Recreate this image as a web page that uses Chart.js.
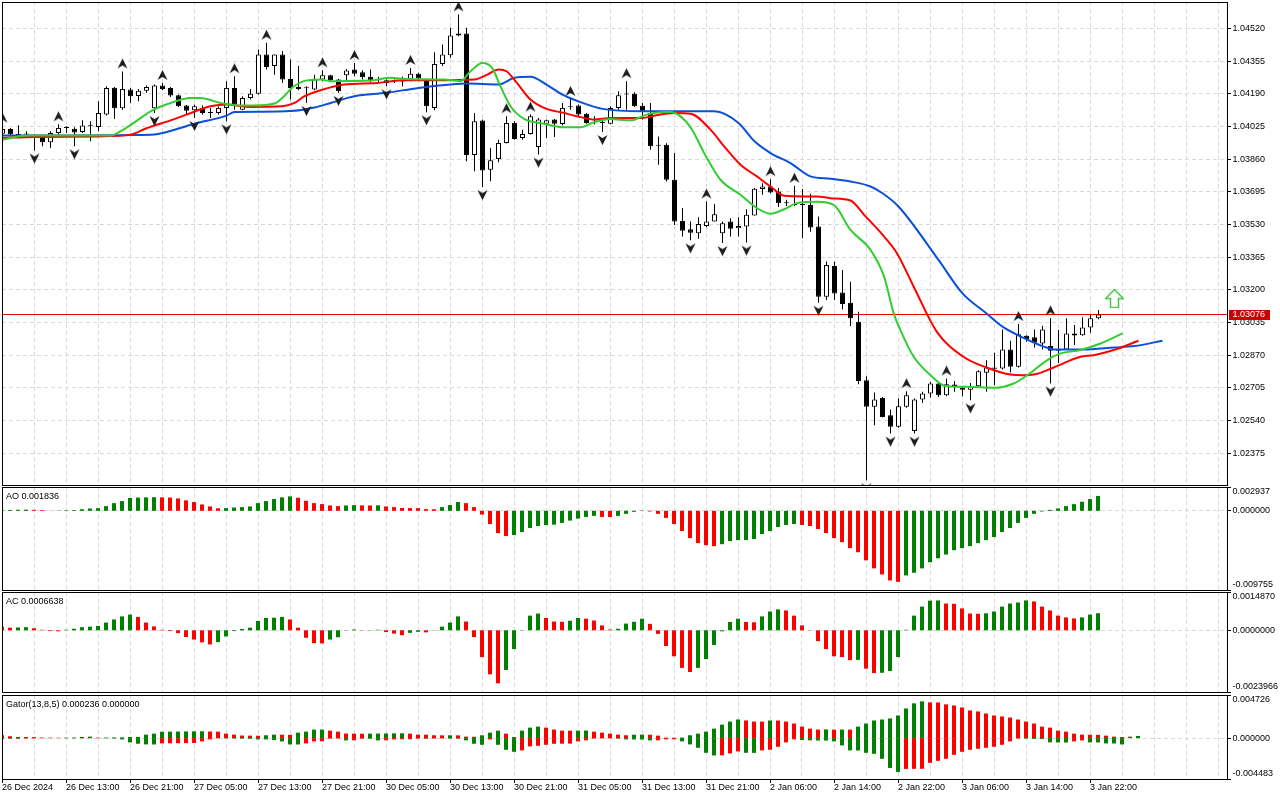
<!DOCTYPE html>
<html>
<head>
<meta charset="utf-8">
<title>EURUSD H1</title>
<script src="https://cdn.jsdelivr.net/npm/chart.js@4.4.1/dist/chart.umd.min.js"></script>
<style>
    html, body { margin: 0; padding: 0; background: #ffffff; }
    body { width: 1280px; height: 800px; position: relative; overflow: hidden; }
    canvas { position: absolute; left: 0; }
</style>
</head>
<body>
<canvas id="mainChart" width="1280" height="487" style="top:0px"></canvas>
<canvas id="aoChart" width="1280" height="106" style="top:486px"></canvas>
<canvas id="acChart" width="1280" height="103" style="top:591px"></canvas>
<canvas id="gatorChart" width="1280" height="106" style="top:694px"></canvas>
<script>
// candles, one per hour, bar 0 = 26 Dec 05:00
var opens = [
    1.03989, 1.04012, 1.03984, 1.03984, 1.03978, 1.03972, 1.03945, 1.03992, 1.04018, 1.04014,
    1.03997, 1.04028, 1.04023, 1.04085, 1.04221, 1.04117, 1.04212, 1.04179, 1.04205, 1.04117,
    1.04232, 1.04220, 1.04183, 1.04131, 1.04107, 1.04119, 1.04093, 1.04093, 1.04119, 1.04220,
    1.04110, 1.04169, 1.04190, 1.04389, 1.04330, 1.04389, 1.04265, 1.04225, 1.04220, 1.04212,
    1.04262, 1.04284, 1.04262, 1.04284, 1.04313, 1.04299, 1.04276, 1.04262, 1.04259, 1.04254,
    1.04252, 1.04262, 1.04292, 1.04262, 1.04119, 1.04341, 1.04385, 1.04485, 1.04495, 1.03881,
    1.04055, 1.03807, 1.03861, 1.03942, 1.04043, 1.03967, 1.03987, 1.03921, 1.04039, 1.04060,
    1.04038, 1.04124, 1.04131, 1.04090, 1.04056, 1.04043, 1.04039, 1.04119, 1.04186, 1.04190,
    1.04130, 1.04093, 1.03930, 1.03933, 1.03756, 1.03548, 1.03506, 1.03486, 1.03523, 1.03545,
    1.03486, 1.03545, 1.03511, 1.03520, 1.03575, 1.03709, 1.03722, 1.03697, 1.03638, 1.03631,
    1.03629, 1.03629, 1.03520, 1.03165, 1.03321, 1.03186, 1.03135, 1.03039, 1.02744, 1.02609,
    1.02654, 1.02567, 1.02508, 1.02609, 1.02487, 1.02646, 1.02676, 1.02727, 1.02668, 1.02722,
    1.02707, 1.02696, 1.02713, 1.02781, 1.02808, 1.02803, 1.02899, 1.02811, 1.02968, 1.02960,
    1.02929, 1.02916, 1.02892, 1.02899, 1.02980, 1.02971, 1.03010, 1.03056
];
var highs = [
    1.04030, 1.04018, 1.04030, 1.04001, 1.03987, 1.03984, 1.04001, 1.04036, 1.04026, 1.04021,
    1.04056, 1.04051, 1.04152, 1.04228, 1.04225, 1.04303, 1.04220, 1.04215, 1.04232, 1.04237,
    1.04245, 1.04225, 1.04186, 1.04134, 1.04136, 1.04131, 1.04119, 1.04127, 1.04254, 1.04279,
    1.04178, 1.04215, 1.04414, 1.04448, 1.04389, 1.04406, 1.04363, 1.04330, 1.04228, 1.04287,
    1.04309, 1.04287, 1.04265, 1.04316, 1.04346, 1.04309, 1.04313, 1.04276, 1.04262, 1.04262,
    1.04276, 1.04321, 1.04296, 1.04265, 1.04400, 1.04439, 1.04524, 1.04591, 1.04524, 1.04093,
    1.04060, 1.03916, 1.03958, 1.04077, 1.04051, 1.04009, 1.04085, 1.04068, 1.04060, 1.04063,
    1.04144, 1.04164, 1.04136, 1.04093, 1.04077, 1.04060, 1.04127, 1.04203, 1.04254, 1.04198,
    1.04144, 1.04144, 1.03975, 1.03941, 1.03891, 1.03613, 1.03545, 1.03567, 1.03646, 1.03633,
    1.03545, 1.03562, 1.03567, 1.03607, 1.03714, 1.03739, 1.03759, 1.03714, 1.03655, 1.03726,
    1.03709, 1.03685, 1.03570, 1.03343, 1.03343, 1.03300, 1.03241, 1.03090, 1.02764, 1.02681,
    1.02659, 1.02595, 1.02651, 1.02688, 1.02651, 1.02685, 1.02735, 1.02735, 1.02752, 1.02740,
    1.02710, 1.02730, 1.02794, 1.02845, 1.02882, 1.03000, 1.02943, 1.03027, 1.02971, 1.03000,
    1.03019, 1.03056, 1.02997, 1.03056, 1.03022, 1.03061, 1.03073, 1.03098
];
var lows = [
    1.03984, 1.03975, 1.03972, 1.03975, 1.03904, 1.03925, 1.03916, 1.03984, 1.03992, 1.03925,
    1.03992, 1.03950, 1.04001, 1.04080, 1.04063, 1.04110, 1.04144, 1.04152, 1.04195, 1.04093,
    1.04208, 1.04174, 1.04124, 1.04085, 1.04068, 1.04085, 1.04068, 1.04085, 1.04051, 1.04110,
    1.04107, 1.04161, 1.04186, 1.04313, 1.04287, 1.04245, 1.04161, 1.04208, 1.04144, 1.04208,
    1.04254, 1.04250, 1.04195, 1.04254, 1.04279, 1.04262, 1.04249, 1.04249, 1.04228, 1.04245,
    1.04228, 1.04254, 1.04254, 1.04097, 1.04107, 1.04330, 1.04372, 1.04481, 1.03849, 1.03799,
    1.03719, 1.03748, 1.03844, 1.03939, 1.03958, 1.03958, 1.03984, 1.03883, 1.03967, 1.03972,
    1.04030, 1.04110, 1.04077, 1.04039, 1.04036, 1.03997, 1.04036, 1.04110, 1.04110, 1.04124,
    1.04060, 1.03908, 1.03832, 1.03747, 1.03528, 1.03469, 1.03450, 1.03458, 1.03516, 1.03545,
    1.03436, 1.03469, 1.03469, 1.03439, 1.03575, 1.03680, 1.03688, 1.03618, 1.03624, 1.03624,
    1.03461, 1.03494, 1.03135, 1.03149, 1.03149, 1.03101, 1.03017, 1.02723, 1.02238, 1.02516,
    1.02555, 1.02474, 1.02504, 1.02605, 1.02474, 1.02629, 1.02656, 1.02659, 1.02663, 1.02685,
    1.02663, 1.02642, 1.02710, 1.02685, 1.02718, 1.02798, 1.02782, 1.02808, 1.02938, 1.02909,
    1.02899, 1.02727, 1.02831, 1.02896, 1.02921, 1.02968, 1.02983, 1.03051
];
var closes = [
    1.04012, 1.03984, 1.03982, 1.03986, 1.03981, 1.03945, 1.03992, 1.04018, 1.04020, 1.03995,
    1.04030, 1.04026, 1.04093, 1.04220, 1.04117, 1.04215, 1.04178, 1.04206, 1.04225, 1.04232,
    1.04215, 1.04181, 1.04127, 1.04105, 1.04127, 1.04093, 1.04093, 1.04119, 1.04220, 1.04136,
    1.04169, 1.04190, 1.04389, 1.04325, 1.04389, 1.04262, 1.04220, 1.04215, 1.04218, 1.04262,
    1.04284, 1.04259, 1.04203, 1.04308, 1.04292, 1.04274, 1.04257, 1.04260, 1.04245, 1.04252,
    1.04254, 1.04292, 1.04267, 1.04127, 1.04341, 1.04389, 1.04485, 1.04495, 1.03881, 1.04051,
    1.03803, 1.03854, 1.03942, 1.04043, 1.03962, 1.03987, 1.04077, 1.04060, 1.04056, 1.04039,
    1.04119, 1.04122, 1.04085, 1.04043, 1.04055, 1.04045, 1.04119, 1.04183, 1.04188, 1.04127,
    1.04102, 1.03925, 1.03928, 1.03756, 1.03545, 1.03499, 1.03489, 1.03532, 1.03545, 1.03582,
    1.03537, 1.03508, 1.03523, 1.03579, 1.03710, 1.03722, 1.03692, 1.03638, 1.03640, 1.03629,
    1.03631, 1.03515, 1.03165, 1.03326, 1.03182, 1.03128, 1.03056, 1.02740, 1.02609, 1.02646,
    1.02558, 1.02508, 1.02612, 1.02668, 1.02646, 1.02676, 1.02727, 1.02668, 1.02723, 1.02710,
    1.02696, 1.02713, 1.02789, 1.02808, 1.02801, 1.02899, 1.02811, 1.02976, 1.02950, 1.02933,
    1.03000, 1.02892, 1.02899, 1.02980, 1.02970, 1.03010, 1.03056, 1.03076
];

// alligator lines as [bar, price] (shifted 8 / 5 / 3 bars)
var jawLine = [
    [0, 1.03979], [8, 1.03979], [16, 1.03982], [19, 1.03985], [20, 1.03992], [24, 1.04039],
    [28, 1.04080], [29, 1.04098], [32, 1.04100], [36, 1.04103], [39, 1.04121], [41, 1.04144],
    [44, 1.04178], [48, 1.04195], [52, 1.04220], [56, 1.04237], [58, 1.04242], [62, 1.04237],
    [64, 1.04271], [66, 1.04276], [68, 1.04237], [70, 1.04186], [72, 1.04152], [75, 1.04114],
    [80, 1.04102], [89, 1.04102], [92, 1.04043], [94, 1.03950], [96, 1.03891], [98.5, 1.03840],
    [101, 1.03773], [103.5, 1.03761], [106, 1.03747], [108.5, 1.03722], [110, 1.03688],
    [112, 1.03621], [117, 1.03351], [120, 1.03182], [123, 1.03081], [125, 1.03014],
    [127.5, 1.02960], [130, 1.02916], [131.5, 1.02899], [135, 1.02899], [139, 1.02909],
    [141.5, 1.02916], [145, 1.02943]
];
var teethLine = [
    [0, 1.03967], [4, 1.03972], [12, 1.03975], [16, 1.03984], [18, 1.04016], [21, 1.04056],
    [23, 1.04085], [26, 1.04127], [28, 1.04136], [31, 1.04124], [35, 1.04127], [36.5, 1.04144],
    [37.75, 1.04178], [39.75, 1.04208], [42.7, 1.04237], [46.8, 1.04245], [50.2, 1.04259],
    [55.2, 1.04259], [59, 1.04262], [60.6, 1.04287], [62, 1.04313], [63, 1.04304],
    [64.3, 1.04245], [66, 1.04161], [67.7, 1.04119], [70.2, 1.04093], [71.8, 1.04077],
    [74, 1.04060], [76, 1.04068], [80, 1.04068], [81, 1.04076], [84, 1.04093], [86, 1.04090],
    [88.5, 1.04009], [90.2, 1.03925], [92.25, 1.03832], [94.3, 1.03773], [96, 1.03722],
    [97.7, 1.03675], [100.2, 1.03672], [101.8, 1.03672], [103.5, 1.03663], [106, 1.03651],
    [107.7, 1.03579], [110.2, 1.03469], [111.8, 1.03385], [113.9, 1.03216], [116.8, 1.02988],
    [120.1, 1.02862], [123, 1.02808], [126, 1.02772], [127.6, 1.02769], [128.9, 1.02772],
    [131.4, 1.02808], [134.75, 1.02862], [136.4, 1.02870], [138.9, 1.02896], [142, 1.02943]
];
var lipsLine = [
    [0, 1.03958], [3, 1.03979], [6, 1.03979], [13.5, 1.03979], [14.75, 1.04001], [16.4, 1.04043],
    [18.5, 1.04102], [21, 1.04144], [23.5, 1.04169], [24.75, 1.04169], [27.25, 1.04144],
    [29.75, 1.04131], [31.4, 1.04131], [34, 1.04141], [35.2, 1.04178], [36.4, 1.04228],
    [37.7, 1.04254], [39.75, 1.04262], [41, 1.04254], [46, 1.04257], [48.5, 1.04271],
    [50.6, 1.04265], [55.2, 1.04262], [57.25, 1.04254], [58.5, 1.04304], [60, 1.04346],
    [61.2, 1.04321], [62.25, 1.04228], [63.5, 1.04127], [65.2, 1.04063], [67.7, 1.04039],
    [70.2, 1.04021], [72.25, 1.04021], [73.9, 1.04046], [76, 1.04063], [78.5, 1.04056],
    [80.5, 1.04085], [82.7, 1.04098], [83.5, 1.04098], [84.75, 1.04076], [86.2, 1.04009],
    [87.7, 1.03891], [89.75, 1.03756], [92.25, 1.03680], [94.3, 1.03613], [96, 1.03584],
    [97.7, 1.03607], [99.3, 1.03638], [101.8, 1.03645], [103.9, 1.03629], [106, 1.03503],
    [108.5, 1.03402], [110.2, 1.03267], [111.4, 1.03081], [112.25, 1.02995], [113.9, 1.02862],
    [116, 1.02769], [118, 1.02713], [120.6, 1.02710], [124, 1.02705], [126.4, 1.02727],
    [128.1, 1.02769], [130.6, 1.02845], [132.25, 1.02879], [134.75, 1.02896],
    [137.25, 1.02929], [140, 1.02980]
];

var fractalUpBars = [0, 7, 15, 20, 29, 33, 40, 44, 51, 57, 63, 66, 71, 78, 88, 96, 99, 113, 118, 127, 131];
var fractalDownBars = [4, 9, 19, 24, 28, 38, 42, 48, 53, 60, 67, 75, 86, 90, 93, 102, 108, 111, 114, 121, 131];
var signalUp = [139, 1.03156];

var priceTicks = [1.04520, 1.04355, 1.04190, 1.04025, 1.03860, 1.03695, 1.03530,
    1.03365, 1.03200, 1.03035, 1.02870, 1.02705, 1.02540, 1.02375];

var timeLabels = ['26 Dec 2024', '26 Dec 13:00', '26 Dec 21:00', '27 Dec 05:00', '27 Dec 13:00',
    '27 Dec 21:00', '30 Dec 05:00', '30 Dec 13:00', '30 Dec 21:00', '31 Dec 05:00', '31 Dec 13:00',
    '31 Dec 21:00', '2 Jan 06:00', '2 Jan 14:00', '2 Jan 22:00', '3 Jan 06:00', '3 Jan 14:00', '3 Jan 22:00'];

var aoValues = [
    0.00009, 0.00011, 0.00013, 0.00015, 0.00012, 0.00009, 0.00002, 0.00003, 0.00006, 0.00009,
    0.00020, 0.00029, 0.00033, 0.00058, 0.00095, 0.00120, 0.00158, 0.00164, 0.00166, 0.00168,
    0.00166, 0.00164, 0.00153, 0.00129, 0.00108, 0.00079, 0.00054, 0.00032, 0.00034, 0.00041,
    0.00046, 0.00054, 0.00095, 0.00120, 0.00145, 0.00166, 0.00178, 0.00162, 0.00124, 0.00095,
    0.00083, 0.00066, 0.00058, 0.00066, 0.00070, 0.00067, 0.00066, 0.00068, 0.00054, 0.00046,
    0.00035, 0.00034, 0.00033, 0.00021, 0.00020, 0.00046, 0.00071, 0.00108, 0.00095, 0.00046,
    -0.00046, -0.00162, -0.00274, -0.00311, -0.00299, -0.00261, -0.00212, -0.00187, -0.00176, -0.00170,
    -0.00149, -0.00120, -0.00095, -0.00075, -0.00062, -0.00075, -0.00076, -0.00062, -0.00037, -0.00012,
    0.00004, -0.00008, -0.00037, -0.00087, -0.00162, -0.00249, -0.00336, -0.00398, -0.00423, -0.00435,
    -0.00411, -0.00373, -0.00361, -0.00360, -0.00348, -0.00286, -0.00249, -0.00199, -0.00174, -0.00162,
    -0.00174, -0.00187, -0.00224, -0.00274, -0.00336, -0.00386, -0.00460, -0.00510, -0.00610, -0.00709,
    -0.00784, -0.00858, -0.00875, -0.00796, -0.00763, -0.00709, -0.00634, -0.00585, -0.00539, -0.00485,
    -0.00460, -0.00435, -0.00398, -0.00361, -0.00323, -0.00261, -0.00212, -0.00149, -0.00087, -0.00037,
    -0.00008, 0.00012, 0.00029, 0.00058, 0.00083, 0.00112, 0.00145, 0.001836
];
var acValues = [
    0.00014, 0.00010, 0.00011, 0.00012, 0.00008, 0.00002, -0.00003, -0.00004, 0.00002, 0.00006,
    0.00012, 0.00014, 0.00017, 0.00030, 0.00042, 0.00054, 0.00061, 0.00052, 0.00030, 0.00015,
    0.00002, -0.00003, -0.00011, -0.00026, -0.00036, -0.00047, -0.00055, -0.00046, -0.00024, -0.00003,
    0.00005, 0.00010, 0.00036, 0.00048, 0.00049, 0.00052, 0.00042, 0.00010, -0.00029, -0.00050,
    -0.00051, -0.00036, -0.00027, 0.00001, 0.00003, -0.00001, 0.00001, 0.00002, -0.00007, -0.00013,
    -0.00019, -0.00010, -0.00006, -0.00008, 0.00001, 0.00014, 0.00030, 0.00054, 0.00034, -0.00026,
    -0.00104, -0.00171, -0.00206, -0.00154, -0.00073, 0.00001, 0.00057, 0.00065, 0.00048, 0.00034,
    0.00033, 0.00037, 0.00048, 0.00045, 0.00038, 0.00019, 0.00003, 0.00006, 0.00026, 0.00033,
    0.00045, 0.00025, -0.00014, -0.00061, -0.00101, -0.00146, -0.00162, -0.00146, -0.00112, -0.00057,
    -0.00004, 0.00032, 0.00045, 0.00032, 0.00031, 0.00054, 0.00073, 0.00081, 0.00077, 0.00057,
    0.00019, 0.00001, -0.00042, -0.00073, -0.00101, -0.00104, -0.00116, -0.00115, -0.00149, -0.00166,
    -0.00165, -0.00158, -0.00104, 0.00002, 0.00057, 0.00092, 0.00115, 0.00116, 0.00104, 0.00103,
    0.00085, 0.00065, 0.00064, 0.00066, 0.00073, 0.00092, 0.00104, 0.00108, 0.00116, 0.00112,
    0.00092, 0.00077, 0.00057, 0.00050, 0.00046, 0.00050, 0.00061, 0.0006638
];
var gatorUpper = [
    0.00031, 0.00020, 0.00013, 0.00012, 0.00011, 0.00006, 0.00005, 0.00004, 0.00005, 0.00006,
    0.00012, 0.00016, 0.00005, 0.00006, 0.00007, 0.00008, 0.00012, 0.00013, 0.00038, 0.00049,
    0.00070, 0.00071, 0.00072, 0.00073, 0.00074, 0.00075, 0.00072, 0.00071, 0.00049, 0.00038,
    0.00028, 0.00027, 0.00026, 0.00031, 0.00038, 0.00037, 0.00036, 0.00060, 0.00071, 0.00093,
    0.00094, 0.00082, 0.00071, 0.00050, 0.00049, 0.00048, 0.00049, 0.00050, 0.00051, 0.00052,
    0.00053, 0.00049, 0.00038, 0.00037, 0.00031, 0.00030, 0.00031, 0.00030, 0.00016, 0.00015,
    0.00031, 0.00060, 0.00082, 0.00049, 0.00012, 0.00082, 0.00115, 0.00126, 0.00115, 0.00094,
    0.00082, 0.00081, 0.00082, 0.00083, 0.00071, 0.00060, 0.00049, 0.00038, 0.00031, 0.00037,
    0.00038, 0.00037, 0.00027, 0.00005, 0.00004, 0.00006, 0.00031, 0.00049, 0.00071, 0.00104,
    0.00148, 0.00182, 0.00204, 0.00193, 0.00182, 0.00181, 0.00193, 0.00192, 0.00182, 0.00160,
    0.00126, 0.00104, 0.00094, 0.00095, 0.00093, 0.00094, 0.00093, 0.00126, 0.00160, 0.00193,
    0.00204, 0.00215, 0.00248, 0.00325, 0.00381, 0.00403, 0.00392, 0.00391, 0.00370, 0.00358,
    0.00336, 0.00303, 0.00292, 0.00270, 0.00248, 0.00237, 0.00226, 0.00204, 0.00182, 0.00160,
    0.00126, 0.00115, 0.00082, 0.00071, 0.00049, 0.00038, 0.00037, 0.00036, 0.00027, 0.00016,
    0.00012, 0.00016, 0.000236
];
var gatorLower = [
    -0.00006, -0.00007, -0.00008, -0.00005, -0.00003, -0.00002, -0.00002, -0.00001, -0.00002, -0.00003,
    -0.00002, -0.00001, -0.00002, -0.00003, -0.00005, -0.00014, -0.00047, -0.00062, -0.00069, -0.00070,
    -0.00058, -0.00057, -0.00056, -0.00055, -0.00054, -0.00036, -0.00014, -0.00003, -0.00004, -0.00005,
    -0.00006, -0.00008, -0.00014, -0.00015, -0.00022, -0.00036, -0.00069, -0.00070, -0.00058, -0.00036,
    -0.00035, -0.00006, -0.00005, -0.00025, -0.00024, -0.00006, -0.00007, -0.00025, -0.00024, -0.00014,
    -0.00013, -0.00012, -0.00006, -0.00007, -0.00005, -0.00004, -0.00006, -0.00007, -0.00025, -0.00062,
    -0.00073, -0.00014, -0.00073, -0.00128, -0.00150, -0.00135, -0.00091, -0.00084, -0.00073, -0.00062,
    -0.00061, -0.00060, -0.00036, -0.00025, -0.00005, -0.00004, -0.00003, -0.00006, -0.00014, -0.00015,
    -0.00016, -0.00025, -0.00024, -0.00014, -0.00013, -0.00036, -0.00069, -0.00106, -0.00161, -0.00190,
    -0.00189, -0.00168, -0.00146, -0.00161, -0.00162, -0.00135, -0.00128, -0.00095, -0.00047, -0.00014,
    -0.00021, -0.00025, -0.00026, -0.00027, -0.00036, -0.00080, -0.00135, -0.00136, -0.00161, -0.00172,
    -0.00227, -0.00327, -0.00371, -0.00338, -0.00337, -0.00336, -0.00271, -0.00249, -0.00227, -0.00183,
    -0.00150, -0.00128, -0.00117, -0.00106, -0.00095, -0.00073, -0.00036, -0.00005, -0.00006, -0.00010,
    -0.00011, -0.00047, -0.00048, -0.00049, -0.00036, -0.00025, -0.00047, -0.00048, -0.00058, -0.00059,
    -0.00069
];

var priceScale = [1.022144, 1.046538];
var aoScale = [-0.009755, 0.002937];
var acScale = [-0.0023966, 0.0014870];
var gatorScale = [-0.004483, 0.004726];

var X_MIN = -0.0625, X_MAX = 153.0625;
var GRID_STEP = 4, LABEL_STEP = 8;
var GRID_COLOR = '#d9d9d9';
var UP_GREEN = '#008000', DOWN_RED = '#ff0000';
var FONT = '9px "Liberation Sans", Arial, sans-serif';

function toPoints(pairs) {
    return pairs.map(function (p) { return { x: p[0], y: p[1] }; });
}

function seriesPoints(values) {
    return values.map(function (v, i) { return { x: i, y: v }; });
}

// green when the bar grows, red when it shrinks; the first bar follows the second
function trendColors(values, useAbs) {
    return values.map(function (v, i) {
        var j = i === 0 ? 1 : i;
        var cur = useAbs ? Math.abs(values[j]) : values[j];
        var prev = useAbs ? Math.abs(values[j - 1]) : values[j - 1];
        return cur >= prev ? UP_GREEN : DOWN_RED;
    });
}

function makeFractalIcon(up) {
    var c = document.createElement('canvas');
    c.width = 11;
    c.height = 32;
    var g = c.getContext('2d');
    g.fillStyle = '#1e1e1e';
    g.beginPath();
    if (up) {
        g.moveTo(5.5, 3); g.lineTo(10.5, 13); g.lineTo(5.5, 10); g.lineTo(0.5, 13);
    } else {
        g.moveTo(5.5, 29); g.lineTo(10.5, 19); g.lineTo(5.5, 22); g.lineTo(0.5, 19);
    }
    g.closePath();
    g.fill();
    return c;
}

function makeSignalIcon() {
    var c = document.createElement('canvas');
    c.width = 19;
    c.height = 19;
    var g = c.getContext('2d');
    g.beginPath();
    g.moveTo(9.5, 0.5); g.lineTo(18.5, 9.5); g.lineTo(13.5, 9.5); g.lineTo(13.5, 18.5);
    g.lineTo(5.5, 18.5); g.lineTo(5.5, 9.5); g.lineTo(0.5, 9.5);
    g.closePath();
    g.fillStyle = '#ffffff';
    g.fill();
    g.strokeStyle = '#46c846';
    g.lineWidth = 1.5;
    g.stroke();
    return c;
}

function panelOptions(canvasH, areaTop, areaBottom, yRange, xShift) {
    return {
        responsive: false,
        animation: false,
        events: [],
        layout: {
            autoPadding: false,
            padding: { left: 2, right: 53, top: areaTop, bottom: canvasH - areaBottom }
        },
        plugins: { legend: { display: false }, tooltip: { enabled: false } },
        scales: {
            x: { type: 'linear', display: false, offset: false, min: X_MIN + xShift, max: X_MAX + xShift },
            y: { type: 'linear', display: false, min: yRange[0], max: yRange[1] }
        }
    };
}

function panelPlugin(cfg) {
    return {
        id: 'mtPanel',
        beforeDatasetsDraw: function (chart) {
            var ctx = chart.ctx, a = chart.chartArea;
            var xs = chart.scales.x, ys = chart.scales.y;
            ctx.save();
            ctx.beginPath();
            ctx.rect(a.left, a.top, a.right - a.left, a.bottom - a.top);
            ctx.clip();
            ctx.strokeStyle = GRID_COLOR;
            ctx.lineWidth = 1;
            ctx.setLineDash([4, 3]);
            ctx.beginPath();
            for (var b = 0; b <= X_MAX; b += GRID_STEP) {
                var px = Math.floor(xs.getPixelForValue(b)) + 0.5;
                ctx.moveTo(px, a.top);
                ctx.lineTo(px, a.bottom);
            }
            cfg.grid.forEach(function (v) {
                var py = Math.floor(ys.getPixelForValue(v)) + 0.5;
                ctx.moveTo(a.left, py);
                ctx.lineTo(a.right, py);
            });
            ctx.stroke();
            ctx.setLineDash([]);
            if (cfg.bid) {
                ctx.fillStyle = '#e60000';
                ctx.fillRect(a.left, Math.floor(ys.getPixelForValue(cfg.bid)), a.right - a.left, 1);
            }
            ctx.restore();
        },
        afterDraw: function (chart) {
            var ctx = chart.ctx, a = chart.chartArea;
            var xs = chart.scales.x, ys = chart.scales.y;
            ctx.save();
            ctx.setLineDash([]);
            ctx.strokeStyle = '#000000';
            ctx.lineWidth = 1;
            ctx.strokeRect(a.left + 0.5, a.top + 0.5, a.right - a.left, a.bottom - a.top);

            ctx.font = FONT;
            ctx.fillStyle = '#000000';
            ctx.textBaseline = 'middle';
            ctx.textAlign = 'left';
            cfg.ticks.forEach(function (t) {
                var py = ys.getPixelForValue(t.value);
                var ty = Math.floor(py) + 0.5;
                ctx.beginPath();
                ctx.moveTo(a.right + 1, ty);
                ctx.lineTo(a.right + 4, ty);
                ctx.stroke();
                var ly = Math.min(Math.max(py, a.top + 5), a.bottom - 5.5);
                ctx.fillText(t.text, a.right + 5.5, ly);
            });

            if (cfg.title) {
                ctx.fillText(cfg.title, 6, a.top + 9.5);
            }

            if (cfg.bid) {
                var by = ys.getPixelForValue(cfg.bid);
                ctx.fillStyle = '#cc0000';
                ctx.fillRect(a.right + 2, Math.floor(by) - 4, 41, 10);
                ctx.fillStyle = '#ffffff';
                ctx.fillText(cfg.bid.toFixed(5), a.right + 5.5, by + 0.5);
            }

            if (cfg.timeAxis) {
                ctx.fillStyle = '#000000';
                timeLabels.forEach(function (label, k) {
                    var px = Math.floor(xs.getPixelForValue(k * LABEL_STEP)) + 0.5;
                    ctx.beginPath();
                    ctx.moveTo(px, a.bottom + 1);
                    ctx.lineTo(px, a.bottom + 4);
                    ctx.stroke();
                    ctx.fillText(label, px - 0.5, a.bottom + 9);
                });
            }
            ctx.restore();
        }
    };
}

document.addEventListener('DOMContentLoaded', function () {
    var upIcon = makeFractalIcon(true);
    var downIcon = makeFractalIcon(false);

    var wickData = lows.map(function (l, i) { return { x: i, y: [l, highs[i]] }; });
    var bodyData = opens.map(function (o, i) { return { x: i, y: [o, closes[i]] }; });
    var bodyFill = opens.map(function (o, i) { return closes[i] >= o ? '#ffffff' : '#000000'; });
    var upPoints = fractalUpBars.map(function (b) { return { x: b, y: highs[b] }; });
    var downPoints = fractalDownBars.map(function (b) { return { x: b, y: lows[b] }; });
    var lastClose = closes[closes.length - 1];

    var lineStyle = { type: 'line', borderWidth: 2, pointRadius: 0, fill: false, clip: 0, cubicInterpolationMode: 'monotone' };

    new Chart(document.getElementById('mainChart'), {
        type: 'bar',
        data: {
            datasets: [
                { type: 'bar', data: wickData, backgroundColor: '#000000', barThickness: 1, grouped: false, inflateAmount: 0, clip: 0, order: 6 },
                { type: 'bar', data: bodyData, backgroundColor: bodyFill, borderColor: '#000000', borderWidth: 1, borderSkipped: false,
                  barThickness: 5, minBarLength: 1, grouped: false, inflateAmount: 0, clip: 0, order: 5 },
                Object.assign({ data: toPoints(jawLine), borderColor: '#0a50d8', order: 4 }, lineStyle),
                Object.assign({ data: toPoints(teethLine), borderColor: '#ff0000', order: 3 }, lineStyle),
                Object.assign({ data: toPoints(lipsLine), borderColor: '#32cd32', order: 2 }, lineStyle),
                { type: 'line', data: upPoints, showLine: false, pointStyle: upIcon, pointRadius: 5, clip: 0, order: 1 },
                { type: 'line', data: downPoints, showLine: false, pointStyle: downIcon, pointRadius: 5, clip: 0, order: 1 },
                { type: 'line', data: [{ x: signalUp[0], y: signalUp[1] }], showLine: false, pointStyle: makeSignalIcon(), pointRadius: 5, clip: 0, order: 0 }
            ]
        },
        options: panelOptions(487, 2, 485, priceScale, 0),
        plugins: [panelPlugin({
            grid: priceTicks,
            ticks: priceTicks.map(function (p) { return { value: p, text: p.toFixed(5) }; }),
            bid: lastClose
        })]
    });

    function histogram(values, useAbs) {
        return { type: 'bar', data: seriesPoints(values), backgroundColor: trendColors(values, useAbs),
                 barThickness: 4, grouped: false, inflateAmount: 0, clip: 0 };
    }

    new Chart(document.getElementById('aoChart'), {
        type: 'bar',
        data: { datasets: [histogram(aoValues, false)] },
        options: panelOptions(106, 1, 104, aoScale, 0.0625),
        plugins: [panelPlugin({
            grid: [0],
            ticks: [{ value: aoScale[1], text: aoScale[1].toFixed(6) }, { value: 0, text: (0).toFixed(6) },
                    { value: aoScale[0], text: aoScale[0].toFixed(6) }],
            title: 'AO ' + aoValues[aoValues.length - 1].toFixed(6)
        })]
    });

    new Chart(document.getElementById('acChart'), {
        type: 'bar',
        data: { datasets: [histogram(acValues, false)] },
        options: panelOptions(103, 1, 101, acScale, 0.0625),
        plugins: [panelPlugin({
            grid: [0],
            ticks: [{ value: acScale[1], text: acScale[1].toFixed(7) }, { value: 0, text: (0).toFixed(7) },
                    { value: acScale[0], text: acScale[0].toFixed(7) }],
            title: 'AC ' + acValues[acValues.length - 1].toFixed(7)
        })]
    });

    new Chart(document.getElementById('gatorChart'), {
        type: 'bar',
        data: { datasets: [histogram(gatorUpper, true), histogram(gatorLower, true)] },
        options: panelOptions(106, 1, 85, gatorScale, 0.0625),
        plugins: [panelPlugin({
            grid: [0],
            ticks: [{ value: gatorScale[1], text: gatorScale[1].toFixed(6) }, { value: 0, text: (0).toFixed(6) },
                    { value: gatorScale[0], text: gatorScale[0].toFixed(6) }],
            title: 'Gator(13,8,5) ' + gatorUpper[gatorUpper.length - 1].toFixed(6) + ' ' + (0).toFixed(6),
            timeAxis: true
        })]
    });
});
</script>
</body>
</html>
